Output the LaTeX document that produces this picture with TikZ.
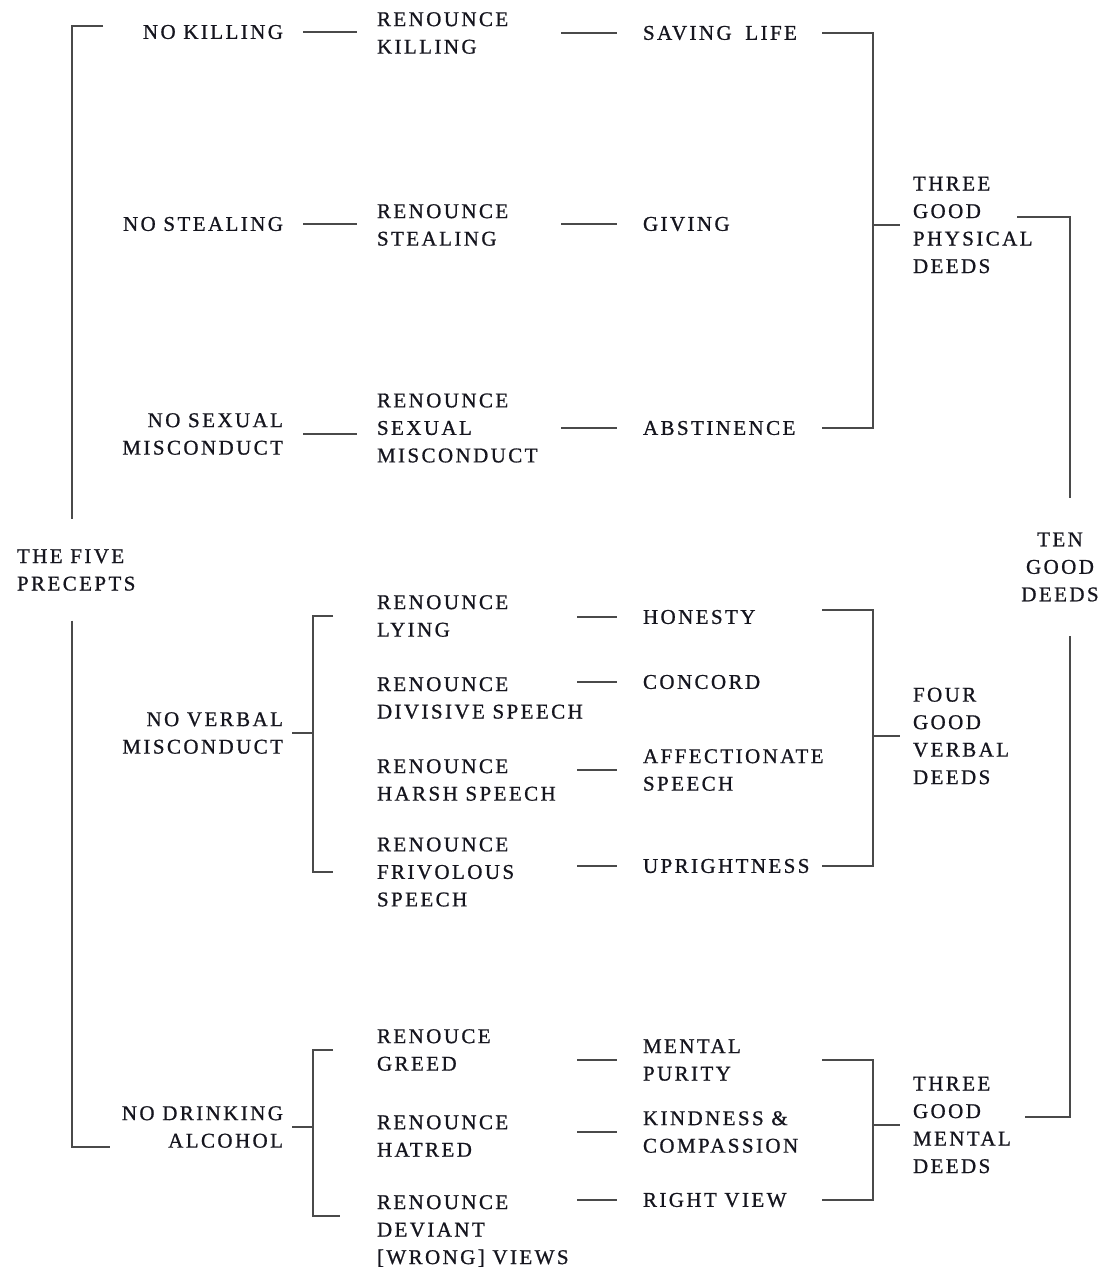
\documentclass[tikz,border=0pt]{standalone}
\usepackage{fontspec}
\setmainfont{Liberation Serif}[LetterSpace=11.5,FakeBold=0.9]
\usetikzlibrary{calc}
\definecolor{ln}{HTML}{4A4A4A}
\definecolor{tx}{HTML}{15151E}
\newcommand{\lbf}{\fontsize{21}{27.5}\selectfont}
\begin{document}
\begin{tikzpicture}[x=1pt,y=-1pt,
  lbl/.style={inner sep=0pt,outer sep=0pt,font=\lbf,text=tx,align=left,anchor=west},
  rlbl/.style={lbl,align=right,anchor=east},
  conn/.style={draw=ln,line width=1.8pt}]
\useasboundingbox (0,0) rectangle (1110,1269);

% column 0 and 1
\node[lbl,outer ysep=30pt] (tfp) at (17,570) {THE FIVE\\PRECEPTS};
\node[rlbl] (nk)  at (283,32)   {NO KILLING};
\node[rlbl] (ns)  at (283,224)  {NO STEALING};
\node[rlbl] (nsm) at (283,434)  {NO SEXUAL\\MISCONDUCT};
\node[rlbl] (nvm) at (283,733)  {NO VERBAL\\MISCONDUCT};
\node[rlbl] (nda) at (283,1127) {NO DRINKING\\ALCOHOL};

% column 2
\node[lbl] (rk)  at (377,33)   {RENOUNCE\\KILLING};
\node[lbl] (rs)  at (377,225)  {RENOUNCE\\STEALING};
\node[lbl] (rsm) at (377,428)  {RENOUNCE\\SEXUAL\\MISCONDUCT};
\node[lbl] (rl)  at (377,616)  {RENOUNCE\\LYING};
\node[lbl] (rd)  at (377,698)  {RENOUNCE\\DIVISIVE SPEECH};
\node[lbl] (rh)  at (377,780)  {RENOUNCE\\HARSH SPEECH};
\node[lbl] (rf)  at (377,872)  {RENOUNCE\\FRIVOLOUS\\SPEECH};
\node[lbl] (rg)  at (377,1050) {RENOUCE\\GREED};
\node[lbl] (rha) at (377,1136) {RENOUNCE\\HATRED};
\node[lbl] (rdv) at (377,1231) {RENOUNCE\\DEVIANT\\{[}WRONG{]} VIEWS};

% column 3
\node[lbl] (sl) at (643,33)   {SAVING\hspace{6pt} LIFE};
\node[lbl] (gv) at (643,224)  {GIVING};
\node[lbl] (ab) at (643,428)  {ABSTINENCE};
\node[lbl] (ho) at (643,617)  {HONESTY};
\node[lbl] (co) at (643,682)  {CONCORD};
\node[lbl] (af) at (643,770)  {AFFECTIONATE\\SPEECH};
\node[lbl] (up) at (643,866)  {UPRIGHTNESS};
\node[lbl] (mp) at (643,1060) {MENTAL\\PURITY};
\node[lbl] (kc) at (643,1132) {KINDNESS \&\\COMPASSION};
\node[lbl] (rv) at (643,1200) {RIGHT VIEW};

% column 4 and 5
\node[lbl] (tgp) at (913,225)  {THREE\\GOOD\\PHYSICAL\\DEEDS};
\node[lbl] (fgv) at (913,736)  {FOUR\\GOOD\\VERBAL\\DEEDS};
\node[lbl] (tgm) at (913,1125) {THREE\\GOOD\\MENTAL\\DEEDS};
\node[lbl,align=center,anchor=center,outer ysep=35pt] (tgd) at (1060,567) {TEN\\GOOD\\DEEDS};

% helper coordinates
\coordinate (Lx) at (72,0);
\coordinate (Ltop) at (103,26);
\coordinate (Lbot) at (110,1147);
\coordinate (Vx) at (313,0);
\coordinate (Ax) at (561,0);
\coordinate (Bx) at (577,0);
\coordinate (Cx) at (822,0);
\coordinate (Rx) at (873,0);
\coordinate (Tx) at (1070,0);
\coordinate (rdvT) at (377,1216);

% left bracket
\draw[conn] (Ltop) -| (Lx |- tfp.north);
\draw[conn] (Lx |- tfp.south) |- (Lbot);

% column 1 -> column 2
\foreach \a/\b in {nk/rk,ns/rs,nsm/rsm}
  \draw[conn,shorten <=20pt,shorten >=20pt] (\a.east) -- (\a.east -| \b.west);
\draw[conn,shorten <=9pt] (nvm.east) -- (nvm.east -| Vx);
\draw[conn,shorten <=44pt,shorten >=44pt] (rl.west) -| (Vx |- rf.west) -- (rf.west);
\draw[conn,shorten <=9pt] (nda.east) -- (nda.east -| Vx);
\draw[conn,shorten <=44pt,shorten >=37pt] (rg.west) -| (Vx |- rdvT) -- (rdvT);

% column 2 -> column 3
\foreach \b in {sl,gv,ab}
  \draw[conn,shorten >=26pt] (\b.west -| Ax) -- (\b.west);
\foreach \b in {ho,co,af,up,mp,kc,rv}
  \draw[conn,shorten >=26pt] (\b.west -| Bx) -- (\b.west);

% right brackets
\draw[conn] (sl.east -| Cx) -| (Rx |- ab.east) -- (ab.east -| Cx);
\draw[conn,shorten >=13pt] (Rx |- tgp.west) -- (tgp.west);
\draw[conn] (ho.north east -| Cx) -| (Rx |- up.east) -- (up.east -| Cx);
\draw[conn,shorten >=13pt] (Rx |- fgv.west) -- (fgv.west);
\draw[conn] (mp.east -| Cx) -| (Rx |- rv.east) -- (rv.east -| Cx);
\draw[conn,shorten >=13pt] (Rx |- tgm.west) -- (tgm.west);

% to ten good deeds
\draw[conn] ([shift={(104pt,8pt)}]tgp.west) -| (Tx |- tgd.north);
\draw[conn] ([shift={(112pt,8pt)}]tgm.west) -| (Tx |- tgd.south);
\end{tikzpicture}
\end{document}
